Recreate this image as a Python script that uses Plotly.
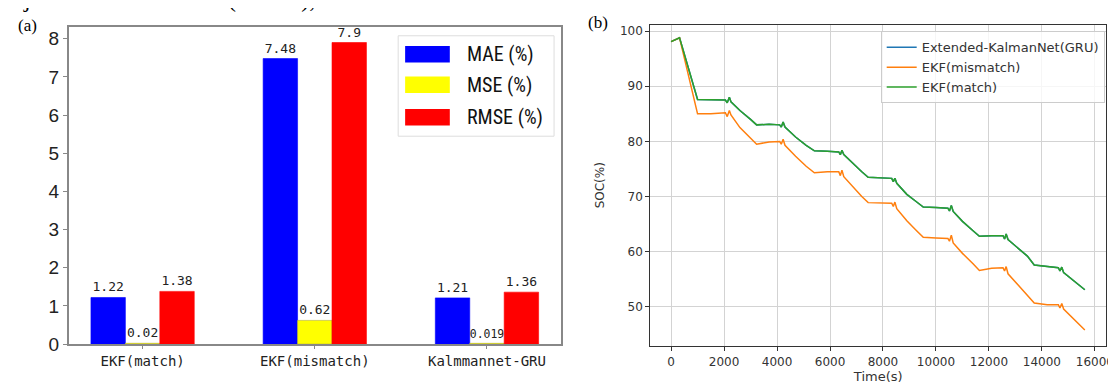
import plotly.graph_objects as go

# ---------------- data: panel (a) ----------------
categories = ["EKF(match)", "EKF(mismatch)", "Kalmmannet-GRU"]
mae = [1.22, 7.48, 1.21]
mse = [0.02, 0.62, 0.019]
rmse = [1.38, 7.9, 1.36]
mae_labels = ["1.22", "7.48", "1.21"]
mse_labels = ["0.02", "0.62", "0.019"]
rmse_labels = ["1.38", "7.9", "1.36"]
bar_names = ["MAE (%)", "MSE (%)", "RMSE (%)"]
y_ticks_a = [0, 1, 2, 3, 4, 5, 6, 7, 8]

# ---------------- data: panel (b) ----------------
time_s = [0, 320, 1000, 1500, 2050, 2120, 2200, 2260, 2600, 3000, 3230, 3700, 4100,
          4160, 4230, 4300, 4700, 5100, 5410, 5900, 6330, 6390, 6450, 6520, 6900, 7200,
          7440, 7900, 8330, 8390, 8450, 8520, 8900, 9250, 9520, 10000, 10450, 10510,
          10580, 10650, 11000, 11400, 11640, 12100, 12530, 12590, 12650, 12720, 13100,
          13450, 13710, 14200, 14620, 14680, 14750, 14820, 15200, 15620]
soc_match = [98.1, 98.8, 87.6, 87.6, 87.5, 87.0, 88.0, 87.2, 85.6, 84.0, 83.0, 83.1, 83.0,
             82.6, 83.5, 82.6, 80.8, 79.3, 78.3, 78.2, 78.1, 77.6, 78.4, 77.6, 75.8, 74.5,
             73.5, 73.4, 73.3, 72.7, 73.3, 72.4, 70.4, 69.1, 68.1, 68.0, 67.9, 67.4,
             68.4, 67.3, 65.5, 63.8, 62.8, 62.9, 62.9, 62.3, 63.2, 62.2, 60.6,
             59.2, 57.6, 57.3, 57.1, 56.5, 57.2, 56.2, 54.8, 53.1]
soc_gru = [98.1, 98.8, 87.6, 87.6, 87.5, 87.0, 88.0, 87.2, 85.6, 84.0, 83.0, 83.1, 83.0,
           82.6, 83.5, 82.6, 80.8, 79.3, 78.3, 78.2, 78.1, 77.6, 78.4, 77.6, 75.8, 74.5,
           73.5, 73.4, 73.3, 72.7, 73.3, 72.4, 70.4, 69.1, 68.1, 68.0, 67.9, 67.4,
           68.4, 67.3, 65.5, 63.8, 62.8, 62.9, 62.9, 62.3, 63.2, 62.2, 60.6,
           59.2, 57.6, 57.3, 57.1, 56.5, 57.2, 56.2, 54.8, 53.1]
soc_mismatch = [98.1, 98.8, 85.0, 85.0, 85.2, 84.5, 85.6, 84.8, 82.5, 80.5, 79.5, 79.9, 80.0,
                79.5, 80.4, 79.3, 77.3, 75.5, 74.3, 74.5, 74.5, 73.8, 74.8, 73.6, 71.5, 70.0,
                68.9, 68.9, 68.8, 68.2, 69.0, 67.8, 65.6, 63.9, 62.6, 62.5, 62.4, 61.9,
                63.0, 61.6, 59.7, 57.8, 56.6, 57.0, 57.1, 56.5, 57.3, 56.0, 54.0,
                52.2, 50.7, 50.4, 50.4, 49.8, 50.6, 49.6, 47.8, 45.8]
line_names = ["Extended-KalmanNet(GRU)", "EKF(mismatch)", "EKF(match)"]

W, H = 1116, 383
def px(x):
    return x / W
def py(y):
    return (H - y) / H

fig = go.Figure()

bar_colors = ["#0000ff", "#ffff00", "#ff0000"]
for vals, labs, name, col in zip([mae, mse, rmse], [mae_labels, mse_labels, rmse_labels],
                                 bar_names, bar_colors):
    fig.add_trace(go.Bar(
        x=categories, y=vals, name=name,
        marker=dict(color=col, line=dict(width=0.6, color=col if col != "#ffff00" else "#b5b030")),
        text=labs, textposition="outside", cliponaxis=False,
        textfont=dict(family="DejaVu Sans Mono", size=13, color="#222"),
        showlegend=False, xaxis="x", yaxis="y"))

line_colors = ["#1f77b4", "#ff7f0e", "#2ca02c"]
for vals, name, col in zip([soc_gru, soc_mismatch, soc_match], line_names, line_colors):
    fig.add_trace(go.Scatter(
        x=time_s, y=vals, name=name, mode="lines",
        line=dict(color=col, width=1.5), xaxis="x2", yaxis="y2"))

shapes = []
annotations = []
# custom legend for panel (a)
shapes.append(dict(type="rect", xref="paper", yref="paper",
                   x0=px(393), x1=px(550), y0=py(132), y1=py(28.6),
                   line=dict(color="#dddddd", width=1), fillcolor="rgba(255,255,255,0.85)",
                   layer="above"))
for i, (name, col, yc) in enumerate(zip(bar_names, bar_colors, [47.5, 79, 112.5])):
    shapes.append(dict(type="rect", xref="paper", yref="paper",
                       x0=px(400), x1=px(445), y0=py(yc + 8.5), y1=py(yc - 8.5),
                       line=dict(width=0), fillcolor=col, layer="above"))
    annotations.append(dict(text=name, xref="paper", yref="paper", x=px(460), y=py(yc),
                            xanchor="left", yanchor="middle", showarrow=False,
                            font=dict(family="Liberation Sans Narrow, Roboto Condensed, Liberation Sans",
                                      size=20, color="#111")))

annotations.append(dict(text="(a)", xref="paper", yref="paper", x=px(8), y=py(18),
                        xanchor="left", yanchor="middle", showarrow=False,
                        font=dict(family="Liberation Serif", size=17, color="#000")))
annotations.append(dict(text="(b)", xref="paper", yref="paper", x=px(582), y=py(15),
                        xanchor="left", yanchor="middle", showarrow=False,
                        font=dict(family="Liberation Serif", size=17, color="#000")))
annotations.append(dict(text="rojection of the UKNF (UKNF), which is a non", xref="paper", yref="paper",
                        x=px(-6), y=py(6), xanchor="left", yanchor="bottom", showarrow=False,
                        font=dict(family="Liberation Serif", size=24, color="#000")))

fig.update_layout(
    width=W, height=H, margin=dict(l=0, r=0, t=0, b=0),
    paper_bgcolor="white", plot_bgcolor="white",
    barmode="group", bargap=0.4, bargroupgap=0,
    xaxis=dict(domain=[px(61), px(557)], anchor="y", type="category", range=[-0.43, 2.43],
               showline=True, mirror=True, linecolor="#888", linewidth=1.5,
               ticks="outside", ticklen=3, tickcolor="#888",
               tickfont=dict(family="DejaVu Sans Mono", size=14, color="#222"),
               showgrid=False, fixedrange=True),
    yaxis=dict(domain=[py(346), py(20)], anchor="x", range=[0, 8.295],
               tickvals=y_ticks_a, showline=True, mirror=True, linecolor="#888", linewidth=1.5,
               ticks="outside", ticklen=4, tickcolor="#888",
               tickfont=dict(family="Liberation Sans", size=19, color="#222"),
               showgrid=False, zeroline=False),
    xaxis2=dict(domain=[px(647), px(1106)], anchor="y2", range=[-782, 16422],
                tick0=0, dtick=2000, tickformat="d",
                showline=True, mirror=True, linecolor="#333", linewidth=1.3,
                ticks="outside", ticklen=4, tickcolor="#333",
                tickfont=dict(family="DejaVu Sans", size=12, color="#333"),
                showgrid=True, gridcolor="#d3d3d3", gridwidth=1, zeroline=False,
                title=dict(text="Time(s)", standoff=4,
                           font=dict(family="DejaVu Sans", size=13, color="#333"))),
    yaxis2=dict(domain=[py(348), py(17)], anchor="x2", range=[42.9, 101.2],
                tick0=50, dtick=10, showline=True, mirror=True, linecolor="#333", linewidth=1.3,
                ticks="outside", ticklen=4, tickcolor="#333",
                tickfont=dict(family="DejaVu Sans", size=12, color="#333"),
                showgrid=True, gridcolor="#d3d3d3", gridwidth=1, zeroline=False,
                title=dict(text="SOC(%)", standoff=12,
                           font=dict(family="DejaVu Sans", size=12, color="#333"))),
    legend=dict(x=px(879), y=py(24), xanchor="left", yanchor="top",
                bgcolor="rgba(255,255,255,0.8)", bordercolor="#cccccc", borderwidth=1,
                font=dict(family="DejaVu Sans", size=13, color="#333"),
                itemwidth=30, tracegroupgap=0),
    shapes=shapes, annotations=annotations,
)

fig.write_html("out.html")
